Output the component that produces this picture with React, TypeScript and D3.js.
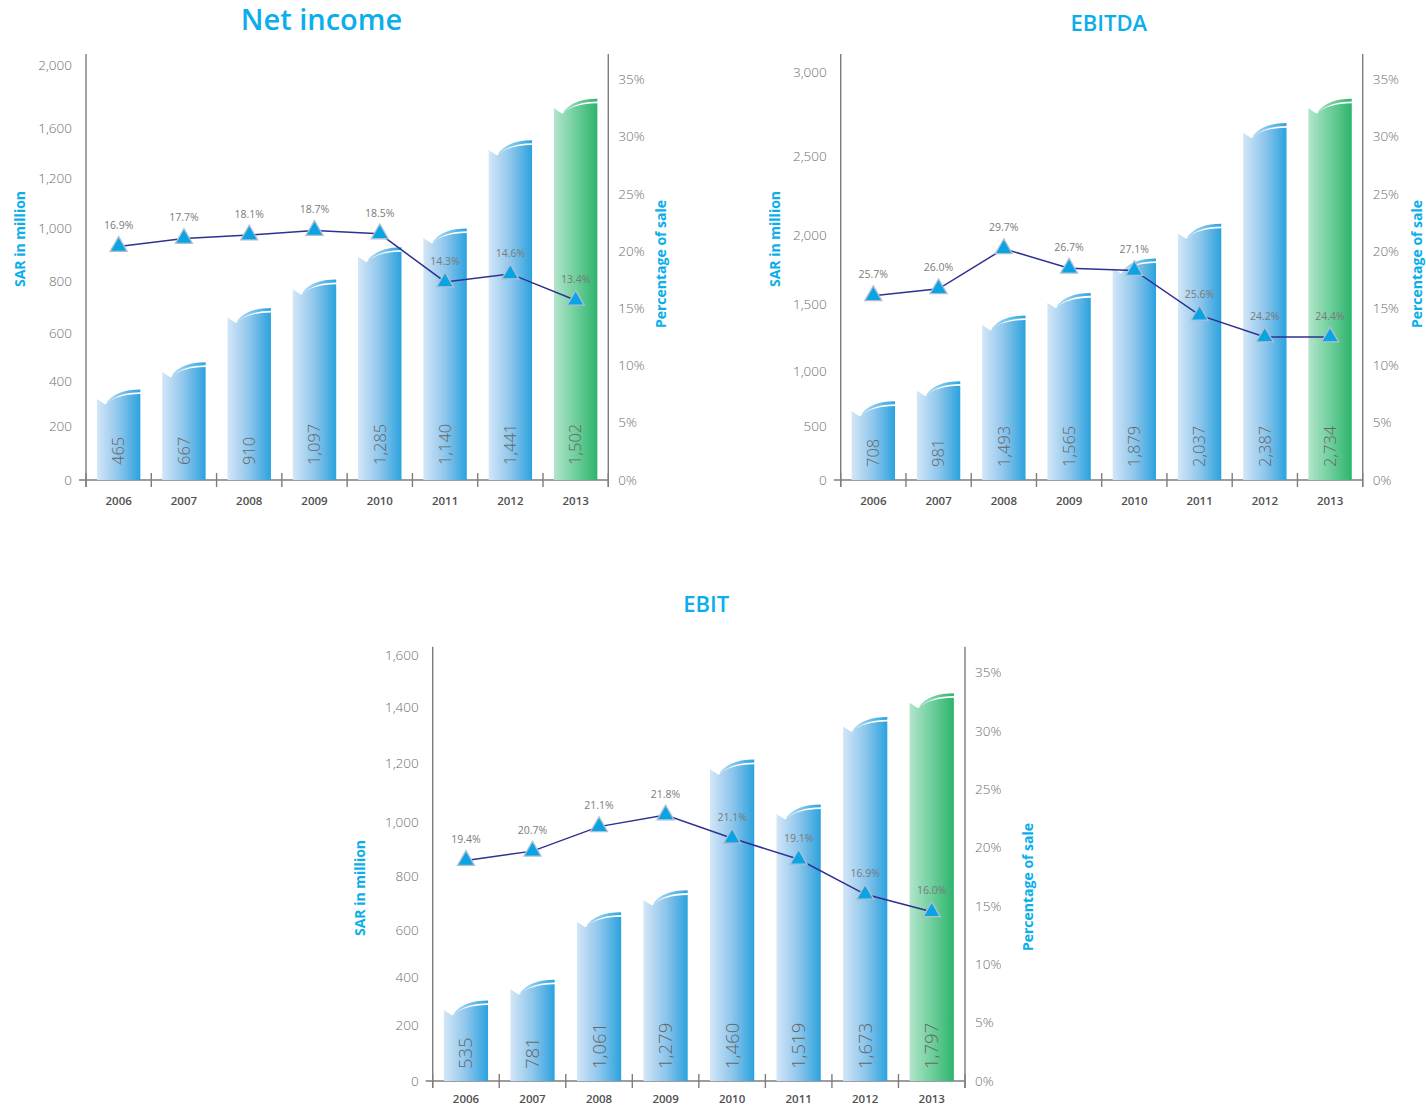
import React from 'react';
import * as d3 from 'd3';

// ---------------- DATA ----------------
const YEARS = ['2006', '2007', '2008', '2009', '2010', '2011', '2012', '2013'];
const PCT_TICKS = [0, 5, 10, 15, 20, 25, 30, 35];

const NI_TICKS = [0, 200, 400, 600, 800, 1000, 1200, 1600, 2000];
const NI_BARS = [321, 438, 661, 771, 894, 965, 1428, 1726];
const NI_VALUE_LABELS = ['465', '667', '910', '1,097', '1,285', '1,140', '1,441', '1,502'];
const NI_PCT = [20.4, 21.1, 21.4, 21.8, 21.5, 17.3, 18.0, 15.7];
const NI_PCT_LABELS = ['16.9%', '17.7%', '18.1%', '18.7%', '18.5%', '14.3%', '14.6%', '13.4%'];

const EBITDA_TICKS = [0, 500, 1000, 1500, 2000, 2500, 3000];
const EBITDA_BARS = [643, 827, 1346, 1512, 1762, 2011, 2643, 2788];
const EBITDA_VALUE_LABELS = ['708', '981', '1,493', '1,565', '1,879', '2,037', '2,387', '2,734'];
const EBITDA_PCT = [16.1, 16.7, 20.2, 18.5, 18.3, 14.4, 12.5, 12.5];
const EBITDA_PCT_LABELS = ['25.7%', '26.0%', '29.7%', '26.7%', '27.1%', '25.6%', '24.2%', '24.4%'];

const EBIT_TICKS = [0, 200, 400, 600, 800, 1000, 1200, 1400, 1600];
const EBIT_BARS = [263, 351, 631, 713, 1180, 1028, 1332, 1419];
const EBIT_VALUE_LABELS = ['535', '781', '1,061', '1,279', '1,460', '1,519', '1,673', '1,797'];
const EBIT_PCT = [18.9, 19.7, 21.8, 22.8, 20.8, 19.0, 16.0, 14.5];
const EBIT_PCT_LABELS = ['19.4%', '20.7%', '21.1%', '21.8%', '21.1%', '19.1%', '16.9%', '16.0%'];

const HIGHLIGHT_YEAR = '2013';

// ---------------- LAYOUT ----------------
type Layout = {
  id: string;
  title: string;
  titleX: number;
  titleY: number;
  titleSize: number;
  left: number;
  right: number;
  base: number;
  top: number;
  tickOffsets: number[];
  pctHeight: number;
  valueSize: number;
  valueLift: number;
  yearDrop: number;
  sarX: number;
  sarY: number;
  pctTitleX: number;
  pctTitleY: number;
};

const LAYOUT_NI: Layout = {
  id: 'ni', title: 'Net income', titleX: 321.5, titleY: 30, titleSize: 29,
  left: 86, right: 608.3, base: 480, top: 54,
  tickOffsets: [0, 53.3, 99, 146.7, 198.3, 251.3, 301.3, 351.7, 415],
  pctHeight: 400.7, valueSize: 16.5, valueLift: 15, yearDrop: 20.5,
  sarX: 25, sarY: 239, pctTitleX: 666, pctTitleY: 264,
};
const LAYOUT_EBITDA: Layout = {
  id: 'ebitda', title: 'EBITDA', titleX: 1108.8, titleY: 31, titleSize: 22,
  left: 840.7, right: 1362.7, base: 480, top: 54,
  tickOffsets: [0, 53.3, 108.3, 175.7, 245, 323.3, 407.3],
  pctHeight: 400.7, valueSize: 16.5, valueLift: 13, yearDrop: 20.5,
  sarX: 780, sarY: 239, pctTitleX: 1421.5, pctTitleY: 264,
};
const LAYOUT_EBIT: Layout = {
  id: 'ebit', title: 'EBIT', titleX: 706.2, titleY: 612.3, titleSize: 22,
  left: 432.7, right: 965, base: 1081, top: 646.7,
  tickOffsets: [0, 56, 103.3, 151, 204.3, 258.7, 317.7, 373.3, 425.3],
  pctHeight: 408.4, valueSize: 18.5, valueLift: 12, yearDrop: 18.3,
  sarX: 365, sarY: 888, pctTitleX: 1033, pctTitleY: 887,
};

const AXIS_COLOR = '#7d7d7d';
const TICK_TEXT = '#6e6e6e';
const CYAN = '#0aaeea';
const LINE_COLOR = '#2e3192';
const LIGHT_FONT = "'Open Sans', 'Liberation Sans', sans-serif";

function barPath(x0: number, w: number, yL: number, yBase: number) {
  const nx = x0 + 0.19 * w;
  const ny = yL + 5.5;
  const ry = yL - 5;
  return `M${x0},${yBase}L${x0},${yL}L${nx},${ny}Q${x0 + 0.45 * w},${ry} ${x0 + w},${ry}L${x0 + w},${yBase}Z`;
}

function swooshPath(x0: number, w: number, yL: number) {
  const tx = x0 + 0.22 * w;
  const ty = yL + 3.3;
  return `M${tx},${ty}Q${x0 + 0.45 * w},${yL - 9.6} ${x0 + w},${yL - 9.6}L${x0 + w},${yL - 6.8}Q${x0 + 0.5 * w},${yL - 6.6} ${tx + 1.2},${ty + 0.6}Z`;
}

type ChartProps = {
  L: Layout;
  ticks: number[];
  bars: number[];
  valueLabels: string[];
  pct: number[];
  pctLabels: string[];
};

function Chart({ L, ticks, bars, valueLabels, pct, pctLabels }: ChartProps) {
  const x = d3.scaleBand<string>().domain(YEARS).range([L.left, L.right]);
  const bw = x.bandwidth();
  const barW = bw * 0.665;
  const yLeft = d3
    .scaleLinear()
    .domain(ticks)
    .range(L.tickOffsets.map((o) => L.base - o));
  const yPct = d3
    .scaleLinear()
    .domain([0, 35])
    .range([L.base, L.base - L.pctHeight]);

  const pts: [number, number][] = YEARS.map((yr, i) => [(x(yr) as number) + bw / 2, yPct(pct[i])]);
  const line = d3.line()(pts) as string;
  const tri = d3.symbol().type(d3.symbolTriangle).size(125)() as string;

  const boundaries = YEARS.map((yr) => x(yr) as number).concat([L.right]);

  return (
    <g>
      <text
        x={L.titleX}
        y={L.titleY}
        textAnchor="middle"
        fill={CYAN}
        fontFamily={LIGHT_FONT}
        fontWeight={600}
        fontSize={L.titleSize}
      >
        {L.title}
      </text>

      {/* Axes */}
      <line x1={L.left} x2={L.left} y1={L.top} y2={L.base + 7} stroke={AXIS_COLOR} strokeWidth={1.4} />
      <line x1={L.right} x2={L.right} y1={L.top} y2={L.base + 7} stroke={AXIS_COLOR} strokeWidth={1.4} />
      <line x1={L.left - 7} x2={L.right} y1={L.base} y2={L.base} stroke={AXIS_COLOR} strokeWidth={1.4} />
      {boundaries.map((bx, i) => (
        <line key={`b${i}`} x1={bx} x2={bx} y1={L.base - 7} y2={L.base + 7} stroke={AXIS_COLOR} strokeWidth={1.4} />
      ))}

      {/* Left tick labels */}
      {ticks.map((t) => (
        <text
          key={`lt${t}`}
          x={L.left - 14}
          y={yLeft(t)}
          dy="0.35em"
          textAnchor="end"
          fill={TICK_TEXT}
          fontFamily={LIGHT_FONT}
          fontWeight={300}
          fontSize={13.5}
        >
          {d3.format(',')(t)}
        </text>
      ))}

      {/* Right tick labels */}
      {PCT_TICKS.map((t) => (
        <text
          key={`rt${t}`}
          x={L.right + 10}
          y={yPct(t)}
          dy="0.35em"
          textAnchor="start"
          fill={TICK_TEXT}
          fontFamily={LIGHT_FONT}
          fontWeight={300}
          fontSize={13.5}
        >
          {`${t}%`}
        </text>
      ))}

      {/* Axis titles */}
      <text
        transform={`translate(${L.sarX},${L.sarY}) rotate(-90)`}
        textAnchor="middle"
        fill={CYAN}
        fontFamily={LIGHT_FONT}
        fontWeight={700}
        fontSize={14}
      >
        SAR in million
      </text>
      <text
        transform={`translate(${L.pctTitleX},${L.pctTitleY}) rotate(-90)`}
        textAnchor="middle"
        fill={CYAN}
        fontFamily={LIGHT_FONT}
        fontWeight={700}
        fontSize={14}
      >
        Percentage of sale
      </text>

      {/* Year labels */}
      {YEARS.map((yr) => (
        <text
          key={`yr${yr}`}
          x={(x(yr) as number) + bw / 2}
          y={L.base + L.yearDrop}
          dy="0.35em"
          textAnchor="middle"
          fill="#4f4f4f"
          fontFamily={LIGHT_FONT}
          fontWeight={600}
          fontSize={11.5}
        >
          {yr}
        </text>
      ))}

      {/* Bars */}
      {YEARS.map((yr, i) => {
        const x0 = (x(yr) as number) + (bw - barW) / 2;
        const yL = yLeft(bars[i]);
        const green = yr === HIGHLIGHT_YEAR;
        return (
          <g key={`bar${yr}`}>
            <path d={barPath(x0, barW, yL, L.base)} fill={`url(#${green ? 'gBody' : 'bBody'})`} />
            <path d={swooshPath(x0, barW, yL)} fill={`url(#${green ? 'gSw' : 'bSw'})`} />
            <text
              transform={`translate(${x0 + barW / 2},${L.base - L.valueLift}) rotate(-90)`}
              dy="0.35em"
              textAnchor="start"
              fill="#666666"
              fontFamily={LIGHT_FONT}
              fontWeight={300}
              fontSize={L.valueSize}
            >
              {valueLabels[i]}
            </text>
          </g>
        );
      })}

      {/* Line */}
      <path d={line} fill="none" stroke={LINE_COLOR} strokeWidth={1.5} />
      {pts.map(([px, py], i) => (
        <g key={`pt${i}`}>
          <path d={tri} transform={`translate(${px},${py})`} fill="#0aa4e4" stroke="#aebfd2" strokeWidth={1.3} />
          <text
            x={px}
            y={py - 21}
            dy="0.35em"
            textAnchor="middle"
            fill="#7a7a7a"
            fontFamily={LIGHT_FONT}
            fontWeight={400}
            fontSize={10.5}
          >
            {pctLabels[i]}
          </text>
        </g>
      ))}
    </g>
  );
}

export default function App() {
  return (
    <svg
      width={1426}
      height={1108}
      style={{ position: 'absolute', left: 0, top: 0, background: '#ffffff' }}
    >
      <defs>
        <linearGradient id="bBody" x1="0" x2="1" y1="0" y2="0">
          <stop offset="0" stopColor="#d3e6f7" />
          <stop offset="0.5" stopColor="#8ec6ec" />
          <stop offset="1" stopColor="#2ba2de" />
        </linearGradient>
        <linearGradient id="gBody" x1="0" x2="1" y1="0" y2="0">
          <stop offset="0" stopColor="#b2e5cb" />
          <stop offset="0.5" stopColor="#6fcf9c" />
          <stop offset="1" stopColor="#2db46c" />
        </linearGradient>
        <linearGradient id="bSw" x1="0" x2="1" y1="0" y2="0">
          <stop offset="0" stopColor="#b5dcf4" />
          <stop offset="1" stopColor="#2ea4de" />
        </linearGradient>
        <linearGradient id="gSw" x1="0" x2="1" y1="0" y2="0">
          <stop offset="0" stopColor="#a6e0c2" />
          <stop offset="1" stopColor="#30b46e" />
        </linearGradient>
      </defs>
      <Chart L={LAYOUT_NI} ticks={NI_TICKS} bars={NI_BARS} valueLabels={NI_VALUE_LABELS} pct={NI_PCT} pctLabels={NI_PCT_LABELS} />
      <Chart L={LAYOUT_EBITDA} ticks={EBITDA_TICKS} bars={EBITDA_BARS} valueLabels={EBITDA_VALUE_LABELS} pct={EBITDA_PCT} pctLabels={EBITDA_PCT_LABELS} />
      <Chart L={LAYOUT_EBIT} ticks={EBIT_TICKS} bars={EBIT_BARS} valueLabels={EBIT_VALUE_LABELS} pct={EBIT_PCT} pctLabels={EBIT_PCT_LABELS} />
    </svg>
  );
}
